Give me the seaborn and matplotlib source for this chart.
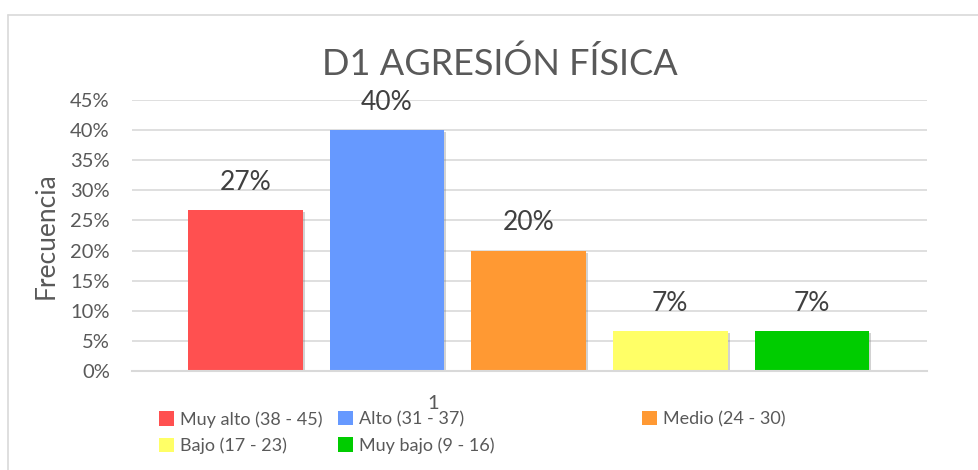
import matplotlib
matplotlib.use("Agg")
import matplotlib.pyplot as plt
import matplotlib.patheffects as pe
from matplotlib.lines import Line2D
from matplotlib.patches import Patch
from matplotlib.ticker import PercentFormatter
import seaborn as sns
import pandas as pd

# Data (n = 30)
categories = ["Muy alto (38 - 45)", "Alto (31 - 37)", "Medio (24 - 30)",
              "Bajo (17 - 23)", "Muy bajo (9 - 16)"]
frequencies = [8, 12, 6, 2, 2]
total = 30
percent = [f / total for f in frequencies]
group_label = "1"
colors = ["#FF5050", "#6699FF", "#FF9933", "#FFFF66", "#00CC00"]

df = pd.DataFrame({"grupo": [group_label] * len(categories),
                   "nivel": categories,
                   "pct": percent})

sns.set_theme(style="white")
plt.rcParams["font.family"] = ["Lato", "DejaVu Sans"]

text_color = "#595959"
grid_color = "#D9D9D9"

fig = plt.figure(figsize=(9.79, 4.70), dpi=100)
ax = fig.add_axes([132 / 979, 99 / 470, 795 / 979, 271 / 470])

sns.barplot(data=df, x="grupo", y="pct", hue="nivel", hue_order=categories,
            palette=colors, width=0.8, gap=0.19, legend=False, ax=ax,
            saturation=1)

for bar in ax.patches:
    bar.set_path_effects([pe.SimplePatchShadow(offset=(1.5, -1.5), shadow_rgbFace="#808080", alpha=0.35),
                          pe.Normal()])
    bar.set_edgecolor("none")

for container in ax.containers:
    ax.bar_label(container, labels=[f"{v:.0%}" for v in container.datavalues],
                 padding=11, fontsize=19, color="#404040")

ax.set_ylim(0, 0.45)
ax.set_yticks([i * 0.05 for i in range(10)])
ax.yaxis.set_major_formatter(PercentFormatter(1.0, decimals=0))
ax.set_xlim(-0.448, 0.450)
ax.set_xticks([-0.108])
ax.set_xticklabels([group_label])
ax.tick_params(axis="y", length=0, pad=16, labelsize=14.5, labelcolor=text_color)
ax.tick_params(axis="x", length=0, pad=17, labelsize=14.5, labelcolor=text_color)
ax.set_xlabel("")
ax.set_ylabel("Frecuencia", fontsize=19, color=text_color, labelpad=8)
ax.yaxis.grid(True, color=grid_color, linewidth=1.2)
ax.set_axisbelow(True)
for side in ["top", "right", "left"]:
    ax.spines[side].set_visible(False)
ax.spines["bottom"].set_color(grid_color)
ax.spines["bottom"].set_linewidth(1.5)

fig.text(500 / 979, 1 - 64 / 470, "D1 AGRESIÓN FÍSICA", ha="center", va="center",
         fontsize=26, color=text_color)

# Chart border (left and top)
fig.add_artist(Line2D([8 / 979, 8 / 979], [0, 1 - 15 / 470], color=grid_color,
                      linewidth=1.2, transform=fig.transFigure))
fig.add_artist(Line2D([8 / 979, 1], [1 - 15 / 470, 1 - 15 / 470], color=grid_color,
                      linewidth=1.2, transform=fig.transFigure))

# Legend laid out row-wise in three columns
columns = [[0, 3], [1, 4], [2]]
col_x = [159, 338, 642]
for idx, x0 in zip(columns, col_x):
    handles = [Patch(facecolor=colors[i], edgecolor="none") for i in idx]
    leg = fig.legend(handles, [categories[i] for i in idx], loc="upper left",
                     bbox_to_anchor=(x0 / 979, 1 - 411 / 470), frameon=False,
                     fontsize=13, handlelength=0.85, handleheight=0.85,
                     handletextpad=0.3, labelspacing=0.55, borderaxespad=0,
                     borderpad=0)
    for t in leg.get_texts():
        t.set_color(text_color)

fig.savefig("out.png", dpi=100, facecolor="white")
